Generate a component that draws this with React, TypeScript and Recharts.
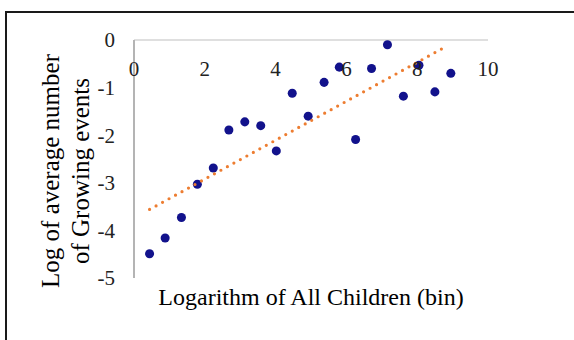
import { ScatterChart, Scatter, XAxis, YAxis, ZAxis, Label } from "recharts";

// log of all children (bin) and log of average number of growing events
const binX = [0.44, 0.88, 1.34, 1.79, 2.24, 2.68, 3.13, 3.58, 4.02, 4.47, 4.92, 5.37, 5.8, 6.26, 6.71, 7.16, 7.61, 8.05, 8.5, 8.95];
const growY = [-4.49, -4.16, -3.73, -3.03, -2.69, -1.89, -1.72, -1.8, -2.33, -1.12, -1.6, -0.89, -0.57, -2.09, -0.6, -0.1, -1.18, -0.53, -1.09, -0.7];
// linear trendline endpoints
const trendX = [0.44, 8.83];
const trendY = [-3.56, -0.13];
const xTicks = [0, 2, 4, 6, 8, 10];
const yTicks = [-5, -4, -3, -2, -1, 0];

const points = binX.map((x, i) => ({ x, y: growY[i] }));
const trend = trendX.map((x, i) => ({ x, y: trendY[i] }));

const FONT = "'Liberation Serif', 'Times New Roman', serif";

function YTitle({ viewBox }: any) {
  const cx = viewBox.x + 65;
  const cy = viewBox.y + viewBox.height / 2 + 12;
  return (
    <g fontFamily={FONT} fontSize={25} fill="#000">
      <text x={cx - 15} y={cy} textAnchor="middle" dominantBaseline="central" transform={`rotate(-90 ${cx - 15} ${cy})`}>
        Log of average number
      </text>
      <text x={cx + 15} y={cy} textAnchor="middle" dominantBaseline="central" transform={`rotate(-90 ${cx + 15} ${cy})`}>
        of Growing events
      </text>
    </g>
  );
}

export default function App() {
  return (
    <div style={{ position: "absolute", left: 0, top: 0, width: 574, height: 340, background: "#fff", overflow: "hidden" }}>
      <div style={{ position: "absolute", left: 5, top: 11, width: 600, height: 400, border: "2px solid #1a1a1a" }} />
      <div style={{ position: "absolute", left: 0, top: 0 }}>
        <ScatterChart width={574} height={340} margin={{ top: 40, right: 86, bottom: 0, left: 0 }}>
          <XAxis
            xAxisId={0}
            type="number"
            dataKey="x"
            orientation="top"
            mirror
            height={1}
            domain={[0, 10]}
            ticks={xTicks}
            stroke="#bfbfbf"
            tickLine={false}
            tickSize={0}
            tickMargin={21}
            tick={{ fill: "#222", fontSize: 21, fontFamily: FONT }}
          />
          <XAxis
            xAxisId="title"
            type="number"
            orientation="bottom"
            height={62}
            domain={[0, 10]}
            tick={false}
            tickLine={false}
            axisLine={false}
          >
            <Label
              value="Logarithm of All Children (bin)"
              position="insideTop"
              offset={10}
              style={{ fill: "#000", fontSize: 24, fontFamily: FONT }}
            />
          </XAxis>
          <YAxis
            type="number"
            dataKey="y"
            width={134}
            domain={[-5, 0]}
            ticks={yTicks}
            stroke="#b4b4b4"
            axisLine={{ stroke: "#b4b4b4", strokeWidth: 2 }}
            tickLine={false}
            tickSize={0}
            tickMargin={19}
            tick={{ fill: "#222", fontSize: 21, fontFamily: FONT }}
          >
            <Label content={<YTitle />} />
          </YAxis>
          <ZAxis range={[85, 85]} />
          <Scatter data={points} fill="#12128c" shape="circle" isAnimationActive={false} />
          <Scatter
            data={trend}
            fill="none"
            line={{ stroke: "#ed7d31", strokeWidth: 3.2, strokeDasharray: "0 7.4", strokeLinecap: "round" }}
            shape={() => null}
            isAnimationActive={false}
          />
        </ScatterChart>
      </div>
    </div>
  );
}
